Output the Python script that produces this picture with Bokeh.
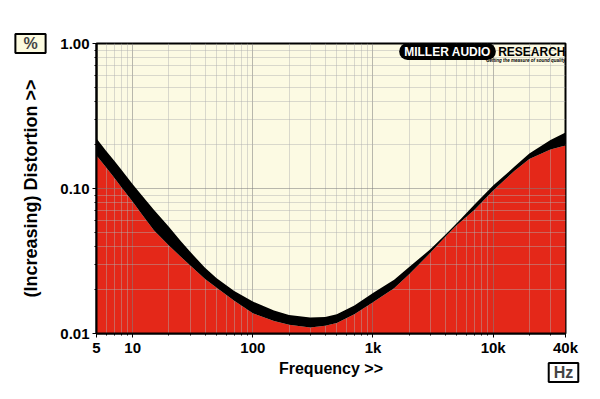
from bokeh.plotting import figure
from bokeh.models import FixedTicker, Label, Range1d
from bokeh.embed import file_html
from bokeh.resources import INLINE

# ---- data ----
freq = [5, 6, 7, 8, 10, 12, 15, 20, 25, 30, 40, 50, 70, 100, 150, 200, 300, 400,
        500, 700, 1000, 1500, 2000, 3000, 4000, 5000, 7000, 10000, 15000, 20000,
        30000, 40000]
upper = [0.221, 0.182, 0.156, 0.136, 0.107, 0.089, 0.0715, 0.0545, 0.0437, 0.0367,
         0.0284, 0.0240, 0.0196, 0.0166, 0.0144, 0.0134, 0.0129, 0.0130, 0.0136,
         0.0156, 0.0190, 0.0235, 0.0287, 0.0381, 0.0480, 0.0579, 0.0776, 0.1049,
         0.141, 0.174, 0.216, 0.243]
lower = [0.169, 0.140, 0.119, 0.103, 0.081, 0.066, 0.0515, 0.0405, 0.0340,
         0.0296, 0.0238, 0.0207, 0.0168, 0.0138, 0.0122, 0.0115, 0.0110, 0.0113,
         0.0118, 0.0136, 0.0164, 0.0205, 0.0256, 0.0360, 0.0465, 0.0560, 0.0715,
         0.0970, 0.132, 0.160, 0.186, 0.198]

x_major = [5, 10, 100, 1000, 10000, 40000]
x_labels = {5: "5", 10: "10", 100: "100", 1000: "1k", 10000: "10k", 40000: "40k"}
x_minor = [6, 7, 8, 9, 20, 30, 40, 50, 60, 70, 80, 90, 200, 300, 400, 500, 600,
           700, 800, 900, 2000, 3000, 4000, 5000, 6000, 7000, 8000, 9000, 20000,
           30000]
y_major = [0.01, 0.1, 1.0]
y_labels = {0.01: "0.01", 0.1: "0.10", 1: "1.00"}
y_minor = [0.02, 0.03, 0.04, 0.05, 0.06, 0.07, 0.08, 0.09,
           0.2, 0.3, 0.4, 0.5, 0.6, 0.7, 0.8, 0.9]

FONT = "Liberation Sans"
RED = "#E42819"
CREAM = "#FCFAE3"

p = figure(width=600, height=399, x_axis_type="log", y_axis_type="log",
           x_range=Range1d(5, 40000), y_range=Range1d(0.01, 1.0),
           output_backend="svg", toolbar_location=None,
           min_border_left=96, min_border_right=35, min_border_top=43,
           min_border_bottom=66)
p.background_fill_color = CREAM
p.border_fill_color = "white"
p.outline_line_color = "black"
p.outline_line_width = 2

floor = [0.001] * len(freq)
red = p.varea(x=freq, y1=floor, y2=lower, fill_color=RED)
red.level = "image"
p.varea(x=freq, y1=lower, y2=upper, fill_color="black")

xt = FixedTicker(ticks=x_major, minor_ticks=x_minor)
yt = FixedTicker(ticks=y_major, minor_ticks=y_minor)
p.xaxis.ticker = xt
p.yaxis.ticker = yt
p.xgrid.ticker = xt
p.ygrid.ticker = yt
p.xaxis.major_label_overrides = x_labels
p.yaxis.major_label_overrides = y_labels

for g in (p.xgrid, p.ygrid):
    g.grid_line_color = "#808080"
    g.grid_line_alpha = 0.55
    g.minor_grid_line_color = "#b0b0b0"
    g.minor_grid_line_alpha = 0.45

for ax in (p.xaxis, p.yaxis):
    ax.axis_line_color = "black"
    ax.axis_line_width = 2
    ax.major_tick_line_color = "black"
    ax.minor_tick_line_color = "black"
    ax.major_tick_in = 0
    ax.minor_tick_in = 0
    ax.major_tick_out = 4
    ax.minor_tick_out = 2
    ax.major_label_text_font = FONT
    ax.major_label_text_font_style = "bold"
    ax.major_label_text_font_size = "15px"
    ax.major_label_text_color = "black"
    ax.axis_label_text_font = FONT
    ax.axis_label_text_font_style = "bold"
    ax.axis_label_text_color = "black"

p.xaxis.axis_label_text_font_size = "16px"
p.yaxis.axis_label_text_font_size = "18px"
p.xaxis.major_label_standoff = 1
p.yaxis.major_label_standoff = 3
p.xaxis.axis_label = "Frequency >>"
p.xaxis.axis_label_standoff = 1
p.yaxis.axis_label = "(Increasing) Distortion >>"
p.yaxis.axis_label_standoff = 16

# unit boxes (canvas units: pixels from the top-left), placed in side panels
pct = Label(x=30, y=43, x_units="canvas", y_units="canvas", text="%",
            text_font=FONT, text_font_style="bold", text_font_size="16px",
            text_align="center", text_baseline="middle",
            background_fill_color="#FDFBE0", border_line_color="black",
            border_line_width=2, padding=dict(left=8, right=8, top=1, bottom=1))
hz = Label(x=563, y=372, x_units="canvas", y_units="canvas", text="Hz",
           text_font=FONT, text_font_style="bold", text_font_size="16px",
           text_align="center", text_baseline="middle",
           background_fill_color="white", border_line_color="black",
           border_line_width=2, padding=dict(left=5, right=5, top=1, bottom=1))
p.add_layout(pct, "above")
p.add_layout(hz, "below")

# logo
logo1 = Label(x=447, y=51, x_units="canvas", y_units="canvas", text="MILLER AUDIO",
              text_font=FONT, text_font_style="bold", text_font_size="12px",
              text_color="white", text_align="center", text_baseline="middle",
              background_fill_color="black", border_radius=9,
              padding=dict(left=5, right=5, top=2, bottom=1))
logo2 = Label(x=565, y=51, x_units="canvas", y_units="canvas", text="RESEARCH",
              text_font=FONT, text_font_style="bold", text_font_size="12px",
              text_color="black", text_align="right", text_baseline="middle")
logo3 = Label(x=565, y=60, x_units="canvas", y_units="canvas",
              text="Getting the measure of sound quality",
              text_font=FONT, text_font_style="bold italic", text_font_size="4.5px",
              text_color="black", text_align="right", text_baseline="middle")
for l in (logo1, logo2, logo3):
    p.add_layout(l)

open("out.html", "w").write(file_html(p, INLINE))
